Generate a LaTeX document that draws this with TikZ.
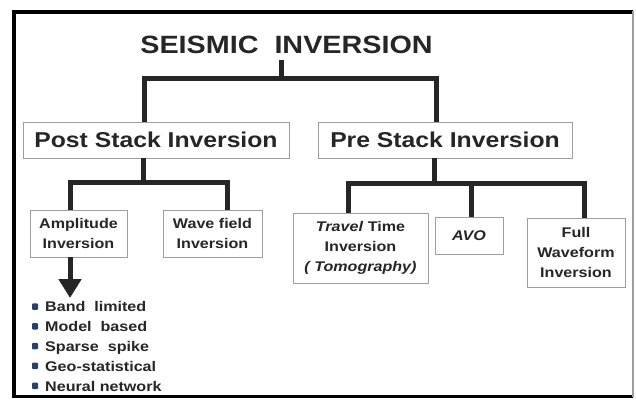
\documentclass[tikz,border=0pt]{standalone}
\usepackage{fontspec}
\newfontfamily\diafont[FakeStretch=1.15]{Liberation Sans}
\usetikzlibrary{arrows.meta}
\definecolor{boxgray}{gray}{0.62}
\definecolor{inkgray}{gray}{0.15}
\definecolor{bulletblue}{RGB}{38,66,105}
\tikzset{
  >=latex,
}
\tikzstyle{branch}=[line width=5pt,inkgray]
\tikzstyle{pointer}=[line width=5pt,inkgray,-{Triangle[width=22pt,length=19pt]}]
\tikzstyle{box}=[draw=boxgray,line width=0.9pt,inner sep=0pt,align=center,text=inkgray,
  font=\diafont\bfseries\fontsize{14}{20}\selectfont]
\tikzstyle{bigbox}=[box,font=\diafont\bfseries\fontsize{21.5}{24}\selectfont]
\tikzstyle{item}=[inner sep=0pt,anchor=base west,text=inkgray,
  font=\diafont\bfseries\fontsize{14}{20}\selectfont]

\begin{document}
\begin{tikzpicture}[x=1pt,y=-1pt]
      \useasboundingbox[fill=white] (0,0) rectangle (636,399);
      \draw[line width=3.5pt] (633,12) -- (14,12) -- (14,396.5) -- (633,396.5);
      \draw[boxgray,line width=2pt] (633,11) -- (633,397);

      \node[anchor=base,inner xsep=0pt,inner ysep=7pt,text=inkgray,
        font=\diafont\bfseries\fontsize{25}{28}\selectfont] (title) at (286.5,53) {SEISMIC~~INVERSION};

      \node[bigbox,minimum width=266pt,minimum height=36pt] (post) at (156,140) {Post Stack Inversion};
      \node[bigbox,minimum width=254pt,minimum height=36pt] (pre) at (445,140) {Pre Stack Inversion};

      \node[box,minimum width=97pt,minimum height=47pt] (amp) at (78.5,233.5) {Amplitude\\Inversion};
      \node[box,minimum width=99pt,minimum height=47pt] (wave) at (212.5,233.5) {Wave field\\Inversion};
      \node[box,minimum width=135pt,minimum height=70pt] (travel) at (360.5,248) {\textit{Travel} Time\\Inversion\\\textit{( Tomography)}};
      \node[box,minimum width=68pt,minimum height=37pt] (avo) at (469,235.5) {\textit{AVO}};
      \node[box,minimum width=98pt,minimum height=69pt] (full) at (576,252.5) {Full\\Waveform\\Inversion};

      \coordinate (hub) at (281,78);
      \coordinate (posthub) at (143,182);
      \coordinate (prehub) at (434,183);
      \coordinate (tip) at (70,298);

      \draw[branch] (title.south -| hub) -- (hub);
      \draw[branch] (hub) -| ([xshift=-12pt]post.north);
      \draw[branch] (hub) -| ([xshift=-9pt]pre.north);

      \draw[branch] (post.south -| posthub) -- (posthub);
      \draw[branch] (posthub) -| ([xshift=-8.5pt]amp.north);
      \draw[branch] (posthub) -| ([xshift=14.5pt]wave.north);

      \draw[branch] (pre.south -| prehub) -- (prehub);
      \draw[branch] (prehub) -| ([xshift=-12.5pt]travel.north);
      \draw[branch] (prehub) -| ([xshift=2pt]avo.north);
      \draw[branch] (prehub) -| ([xshift=8pt]full.north);

      \draw[pointer] (amp.south -| tip) -- (tip);

      \foreach \t [count=\i] in {Band~~limited,Model~~based,Sparse~~spike,Geo-statistical,Neural network}{
        \node[item] (m\i) at (45,292+19.8*\i) {\t};
        \fill[bulletblue,rounded corners=1pt] ([xshift=-13pt,yshift=2pt]m\i.base west) rectangle ++(6,-6.5);
      }
    \end{tikzpicture}
\end{document}
